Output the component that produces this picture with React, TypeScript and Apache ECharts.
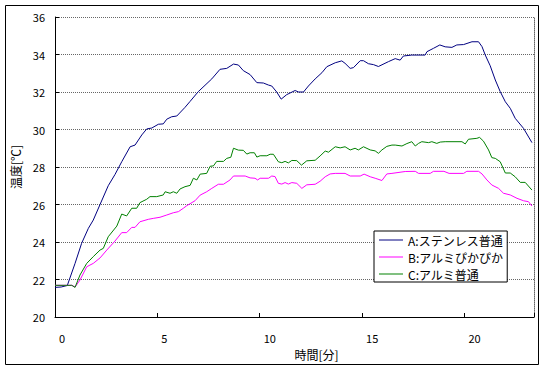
import React, { useEffect, useRef } from "react";
import * as echarts from "echarts";

const FONT = '"Noto Sans CJK JP", "Noto Sans", sans-serif';

const seriesNames = ["A:ステンレス普通", "B:アルミぴかぴか", "C:アルミ普通"];
const seriesColors = ["#000080", "#FF00FF", "#008000"];

const timeA = [0, 0.3, 0.6, 0.98, 1.3, 1.63, 1.87, 2.2, 2.6, 2.93, 3.26, 3.67, 3.91, 4.24, 4.48, 4.73, 5.05, 5.29, 5.46, 5.7, 5.95, 6.35, 6.6, 7.0, 7.66, 8.06, 8.39, 8.72, 8.96, 9.2, 9.53, 9.86, 10.18, 10.43, 10.59, 10.83, 11.05, 11.32, 11.73, 11.9, 12.14, 12.38, 12.71, 13.04, 13.28, 13.69, 14.01, 14.17, 14.42, 14.58, 14.91, 15.07, 15.31, 15.56, 15.8, 16.29, 16.62, 16.86, 17.02, 17.43, 18.08, 18.17, 18.49, 18.8, 19.06, 19.39, 19.63, 19.96, 20.37, 20.69, 20.86, 21.02, 21.26, 21.51, 21.75, 22.0, 22.24, 22.48, 22.89, 23.3];
const tempA = [21.58, 21.6, 21.68, 22.86, 23.93, 24.73, 25.17, 26.0, 27.0, 27.6, 28.28, 29.08, 29.17, 29.71, 30.03, 30.08, 30.28, 30.3, 30.55, 30.68, 30.72, 31.18, 31.5, 32.02, 32.7, 33.21, 33.26, 33.49, 33.44, 33.14, 32.93, 32.5, 32.48, 32.37, 32.32, 32.0, 31.62, 31.86, 32.08, 32.0, 32.0, 32.32, 32.7, 33.03, 33.35, 33.56, 33.66, 33.53, 33.26, 33.3, 33.67, 33.67, 33.51, 33.46, 33.36, 33.62, 33.78, 33.7, 33.92, 33.97, 33.97, 34.15, 34.33, 34.51, 34.41, 34.38, 34.51, 34.53, 34.68, 34.68, 34.42, 33.97, 33.4, 32.64, 32.02, 31.48, 31.13, 30.6, 30.06, 29.3];

const timeB = [0, 0.82, 0.98, 1.22, 1.55, 1.87, 2.2, 2.53, 2.93, 3.26, 3.5, 3.75, 3.91, 4.15, 4.56, 4.8, 5.13, 5.46, 5.78, 6.03, 6.27, 6.44, 6.84, 7.09, 7.41, 7.66, 7.98, 8.23, 8.55, 8.72, 9.29, 9.53, 9.77, 9.9, 10.02, 10.43, 10.59, 10.75, 10.91, 11.08, 11.24, 11.4, 11.57, 11.81, 12.06, 12.3, 12.71, 12.95, 13.2, 13.44, 13.69, 14.17, 14.42, 14.91, 15.1, 15.4, 15.64, 15.97, 16.21, 16.46, 17.11, 17.6, 17.76, 18.33, 18.49, 19.0, 19.25, 19.96, 20.12, 20.69, 20.86, 21.1, 21.34, 21.67, 21.91, 22.24, 22.57, 22.89, 23.13, 23.3];
const tempB = [21.69, 21.69, 21.6, 21.97, 22.68, 22.86, 23.15, 23.57, 24.05, 24.5, 24.5, 24.78, 24.78, 25.08, 25.21, 25.26, 25.32, 25.44, 25.56, 25.62, 25.8, 25.94, 26.2, 26.5, 26.68, 26.86, 27.08, 27.08, 27.31, 27.52, 27.52, 27.42, 27.4, 27.31, 27.4, 27.4, 27.52, 27.49, 27.13, 27.09, 27.17, 27.09, 27.17, 27.13, 26.86, 27.05, 27.08, 27.24, 27.48, 27.63, 27.66, 27.66, 27.52, 27.52, 27.62, 27.48, 27.4, 27.28, 27.63, 27.66, 27.76, 27.77, 27.66, 27.66, 27.77, 27.77, 27.66, 27.66, 27.77, 27.77, 27.63, 27.31, 27.04, 26.86, 26.6, 26.51, 26.33, 26.2, 26.15, 25.92];

const timeC = [0, 0.82, 0.98, 1.22, 1.55, 1.87, 2.2, 2.36, 2.6, 3.02, 3.26, 3.5, 3.75, 3.99, 4.15, 4.48, 4.64, 4.97, 5.29, 5.38, 5.62, 5.78, 5.95, 6.11, 6.35, 6.6, 6.76, 6.93, 7.09, 7.41, 7.58, 7.74, 7.9, 8.23, 8.39, 8.59, 8.72, 8.96, 9.2, 9.37, 9.53, 9.74, 9.86, 10.02, 10.35, 10.51, 10.67, 10.91, 11.08, 11.24, 11.4, 11.57, 11.81, 12.04, 12.3, 12.71, 12.95, 13.2, 13.36, 13.69, 13.93, 14.17, 14.42, 14.66, 14.82, 15.07, 15.4, 15.64, 15.8, 15.97, 16.21, 16.46, 16.62, 16.95, 17.19, 17.43, 17.6, 17.76, 17.92, 18.25, 18.41, 18.65, 18.82, 19.06, 19.88, 20.04, 20.2, 20.61, 20.74, 20.93, 21.18, 21.34, 21.51, 21.75, 22.0, 22.24, 22.48, 22.73, 22.97, 23.3];
const tempC = [21.69, 21.69, 21.58, 22.24, 22.86, 23.22, 23.57, 23.66, 24.28, 24.85, 25.49, 25.39, 25.8, 25.8, 26.1, 26.28, 26.42, 26.42, 26.51, 26.68, 26.6, 26.68, 26.6, 26.83, 26.95, 27.02, 27.4, 27.31, 27.62, 27.66, 28.04, 28.06, 28.3, 28.3, 28.46, 28.52, 29.0, 28.9, 28.89, 28.69, 28.76, 28.76, 28.53, 28.6, 28.6, 28.68, 28.68, 28.28, 28.23, 28.3, 28.22, 28.35, 28.34, 28.1, 28.33, 28.36, 28.59, 28.85, 28.79, 29.08, 29.02, 29.08, 28.91, 29.0, 28.91, 29.08, 28.91, 28.86, 28.73, 28.91, 29.1, 29.17, 29.17, 29.12, 29.25, 29.35, 29.12, 29.26, 29.35, 29.3, 29.35, 29.26, 29.33, 29.35, 29.35, 29.23, 29.48, 29.53, 29.58, 29.38, 28.91, 28.5, 28.46, 28.28, 27.68, 27.68, 27.48, 27.18, 27.18, 26.77];

const xMin = 0;
const xMax = 23.4;
const xStep = 5;
const yMin = 20;
const yMax = 36;
const yStep = 2;
const xTitle = "時間[分]";
const yTitle = "温度[℃]";

const times = [timeA, timeB, timeC];
const temps = [tempA, tempB, tempC];

export default function App() {
  const ref = useRef<HTMLDivElement>(null);
  useEffect(() => {
    if (!ref.current) return;
    const chart = echarts.init(ref.current, null, { renderer: "svg" });
    const series = seriesNames.map((name, i) => ({
      type: "line",
      name,
      data: times[i].map((t, j) => [t, temps[i][j]]),
      symbol: "none",
      showSymbol: false,
      lineStyle: { color: seriesColors[i], width: 1 },
      itemStyle: { color: seriesColors[i] },
      z: 2 + i,
    }));
    chart.setOption({
      animation: false,
      backgroundColor: "#ffffff",
      textStyle: { fontFamily: FONT },
      grid: { left: 55, top: 17, right: 11, bottom: 53, containLabel: false },
      graphic: [
        {
          type: "rect",
          shape: { x: 5.5, y: 5.5, width: 533, height: 359 },
          style: { fill: "none", stroke: "#000", lineWidth: 1 },
          silent: true,
          z: 100,
        },
      ],
      xAxis: {
        type: "value",
        min: xMin,
        max: xMax,
        interval: xStep,
        axisLine: { show: true, onZero: false, lineStyle: { color: "#000", width: 1 } },
        axisTick: { show: true, inside: true, length: 4, lineStyle: { color: "#000" } },
        splitLine: { show: false },
        axisLabel: {
          color: "#000",
          fontSize: 11,
          fontFamily: FONT,
          margin: 15,
          align: "left",
          padding: [0, 0, 0, 4],
          formatter: (v: number) => (Math.abs(v % xStep) < 1e-9 ? String(v) : ""),
        },
        name: xTitle,
        nameLocation: "middle",
        nameGap: 31,
        nameTextStyle: { color: "#000", fontSize: 12, fontFamily: FONT, padding: [0, 0, 0, 44] },
      },
      yAxis: [
        {
          type: "value",
          min: yMin,
          max: yMax,
          interval: yStep,
          axisLine: { show: true, onZero: false, lineStyle: { color: "#000", width: 1 } },
          axisTick: { show: true, inside: true, length: 4, lineStyle: { color: "#000" } },
          axisLabel: { color: "#000", fontSize: 11, fontFamily: FONT, margin: 10 },
          splitLine: { show: true, lineStyle: { color: "#666", width: 1, type: [1, 1] } },
          name: yTitle,
          nameLocation: "middle",
          nameGap: 32,
          nameTextStyle: { color: "#000", fontSize: 12, fontFamily: FONT },
        },
        {
          type: "value",
          position: "right",
          min: yMin,
          max: yMax,
          interval: yStep,
          axisLine: { show: true, onZero: false, lineStyle: { color: "#666", width: 1, type: [1, 1] } },
          axisTick: { show: false },
          axisLabel: { show: false },
          splitLine: { show: false },
        },
      ],
      legend: {
        data: seriesNames,
        orient: "vertical",
        left: 374,
        top: 231,
        padding: [2, 4, 1, 5],
        itemGap: 3,
        itemWidth: 24,
        itemHeight: 1,
        icon: "rect",
        itemTextGap: 3,
        borderColor: "#000",
        borderWidth: 1,
        borderRadius: 0,
        backgroundColor: "#fff",
        textStyle: { color: "#000", fontSize: 12, fontFamily: FONT, lineHeight: 14 },
      },
      series,
    });
    return () => chart.dispose();
  }, []);
  return (
    <div
      ref={ref}
      style={{ position: "fixed", left: 0, top: 0, width: 545, height: 370, background: "#fff" }}
    />
  );
}
